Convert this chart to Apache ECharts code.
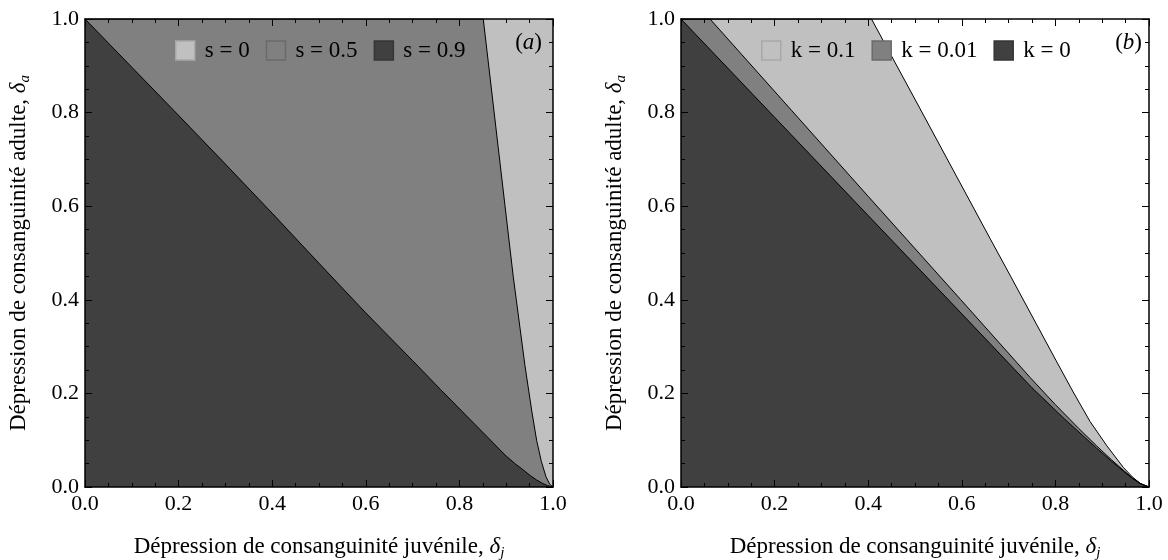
<!DOCTYPE html>
<html>
<head>
<meta charset="utf-8">
<script src="https://cdn.jsdelivr.net/npm/echarts@6/dist/echarts.min.js"></script>
<style>html,body{margin:0;padding:0;background:#fff}#c{width:1168px;height:560px}</style>
</head>
<body>
<div id="c"></div>
<script>
// ---------- data ----------
const tickLabels = ['0.0', '0.2', '0.4', '0.6', '0.8', '1.0'];

// panel (a)
const legendA = ['s = 0', 's = 0.5', 's = 0.9'];
const s0X  = [0, 1];
const s0Y  = [1, 1];
const s05X = [0, 0.851, 0.883, 0.915, 0.940, 0.955, 0.965, 0.975, 0.985, 0.993, 1];
const s05Y = [1, 1, 0.725, 0.450, 0.260, 0.160, 0.100, 0.055, 0.022, 0.006, 0];
const s09X = [0, 0.1, 0.2, 0.3, 0.4, 0.5, 0.6, 0.7, 0.76, 0.83, 0.9, 0.92, 0.937, 0.952, 0.965, 0.977, 0.988, 1];
const s09Y = [1, 0.897, 0.794, 0.690, 0.585, 0.478, 0.372, 0.270, 0.208, 0.137, 0.066, 0.049, 0.036, 0.024, 0.015, 0.008, 0.003, 0];

// panel (b)
const legendB = ['k = 0.1', 'k = 0.01', 'k = 0'];
const k01X  = [0, 0.407, 0.511, 0.662, 0.705, 0.801, 0.838, 0.874, 0.910, 0.945, 0.965, 0.982, 1];
const k01Y  = [1, 1, 0.808, 0.528, 0.449, 0.271, 0.203, 0.140, 0.088, 0.042, 0.021, 0.007, 0];
const k001X = [0, 0.062, 0.236, 0.4, 0.598, 0.746, 0.8, 0.85, 0.888, 0.92, 0.945, 0.965, 0.982, 1];
const k001Y = [1, 1, 0.805, 0.621, 0.400, 0.234, 0.176, 0.125, 0.088, 0.058, 0.036, 0.019, 0.0075, 0];
const k0X   = [0, 0.2, 0.4, 0.6, 0.75, 0.82, 0.888, 0.92, 0.945, 0.965, 0.982, 1];
const k0Y   = [1, 0.790, 0.580, 0.370, 0.212, 0.145, 0.083, 0.055, 0.034, 0.018, 0.007, 0];

// ---------- styling ----------
const FONT = 'Liberation Serif, "DejaVu Serif", serif';
const LIGHT = '#c0c0c0', MID = '#808080', DARK = '#404040';
const zip = (xs, ys) => xs.map((x, i) => [x, ys[i]]);

function axisCommon(gridIndex, position, showLabel) {
  return {
    type: 'value', gridIndex, position, min: 0, max: 1, interval: 0.2, z: 10,
    axisLine: { show: true, onZero: false, lineStyle: { color: '#000', width: 1.5 } },
    axisTick: { show: true, inside: true, length: 7, lineStyle: { color: '#000', width: 1 } },
    minorTick: { show: true, splitNumber: 4, length: 4, lineStyle: { color: '#000', width: 1 } },
    splitLine: { show: false },
    axisLabel: {
      show: showLabel, color: '#000', fontFamily: FONT, fontSize: 22, margin: 6,
      formatter: v => tickLabels[Math.round(v / 0.2)]
    }
  };
}
const nameRich = {
  d: { fontFamily: FONT, fontSize: 23, fontStyle: 'italic', color: '#000' },
  sub: { fontFamily: FONT, fontSize: 15, fontStyle: 'italic', color: '#000', verticalAlign: 'bottom', lineHeight: 28 }
};
function xName(ax) {
  return Object.assign(ax, {
    name: 'Dépression de consanguinité juvénile, {d|δ}{sub|j}',
    nameLocation: 'middle', nameGap: 46,
    nameTextStyle: { fontFamily: FONT, fontSize: 23, color: '#000', rich: nameRich }
  });
}
function yName(ax) {
  return Object.assign(ax, {
    name: 'Dépression de consanguinité adulte, {d|δ}{sub|a}',
    nameLocation: 'middle', nameGap: 52,
    nameTextStyle: { fontFamily: FONT, fontSize: 23, color: '#000', rich: nameRich }
  });
}

function area(name, data, color, xi, yi, lw) {
  return {
    type: 'line', name, data, xAxisIndex: xi, yAxisIndex: yi,
    showSymbol: false, symbol: 'none', smooth: false, z: 2,
    itemStyle: { color },
    lineStyle: { color: '#000', width: lw },
    areaStyle: { color, opacity: 1, origin: 'start' },
    emphasis: { disabled: true }, silent: true, animation: false
  };
}

function legendItem(name, color, border) {
  return { name, itemStyle: { color, borderColor: border, borderWidth: 1.5 } };
}
const legendCommon = {
  orient: 'horizontal', top: 34, itemWidth: 19, itemHeight: 19, itemGap: 16,
  icon: 'rect', selectedMode: false,
  textStyle: { fontFamily: FONT, fontSize: 23, color: '#000', padding: [0, 0, 0, 5] }
};

const option = {
  animation: false,
  backgroundColor: '#fff',
  grid: [
    { left: 85, top: 19, width: 468, height: 468, outerBoundsMode: 'none', containLabel: false },
    { left: 681, top: 19, width: 468, height: 468, outerBoundsMode: 'none', containLabel: false }
  ],
  xAxis: [
    xName(axisCommon(0, 'bottom', true)),
    axisCommon(0, 'top', false),
    xName(axisCommon(1, 'bottom', true)),
    axisCommon(1, 'top', false)
  ],
  yAxis: [
    yName(axisCommon(0, 'left', true)),
    axisCommon(0, 'right', false),
    yName(axisCommon(1, 'left', true)),
    axisCommon(1, 'right', false)
  ],
  legend: [
    Object.assign({}, legendCommon, { left: 170, data: [
      legendItem(legendA[0], LIGHT, '#a8a8a8'),
      legendItem(legendA[1], MID, '#6a6a6a'),
      legendItem(legendA[2], DARK, '#353535')
    ] }),
    Object.assign({}, legendCommon, { left: 756, data: [
      legendItem(legendB[0], LIGHT, '#a8a8a8'),
      legendItem(legendB[1], MID, '#6a6a6a'),
      legendItem(legendB[2], DARK, '#353535')
    ] })
  ],
  series: [
    area(legendA[0], zip(s0X, s0Y), LIGHT, 0, 0, 0),
    area(legendA[1], zip(s05X, s05Y), MID, 0, 0, 1),
    area(legendA[2], zip(s09X, s09Y), DARK, 0, 0, 1),
    area(legendB[0], zip(k01X, k01Y), LIGHT, 2, 2, 1),
    area(legendB[1], zip(k001X, k001Y), MID, 2, 2, 1),
    area(legendB[2], zip(k0X, k0Y), DARK, 2, 2, 1)
  ],
  graphic: [
    { type: 'text', right: 1168 - 542, top: 31, z: 20,
      style: { text: '({i|a})', fontFamily: FONT, fontSize: 23, fill: '#000',
        rich: { i: { fontFamily: FONT, fontSize: 23, fontStyle: 'italic', fill: '#000' } } } },
    { type: 'text', right: 1168 - 1142, top: 31, z: 20,
      style: { text: '({i|b})', fontFamily: FONT, fontSize: 23, fill: '#000',
        rich: { i: { fontFamily: FONT, fontSize: 23, fontStyle: 'italic', fill: '#000' } } } }
  ]
};

const chart = echarts.init(document.getElementById('c'), null, { renderer: 'canvas' });
chart.setOption(option);
</script>
</body>
</html>
